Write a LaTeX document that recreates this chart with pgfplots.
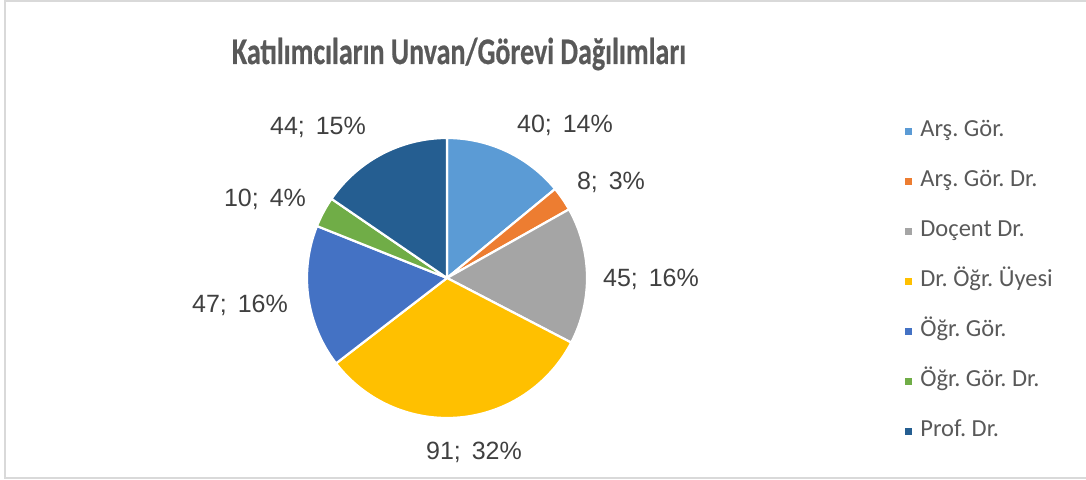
\documentclass[border=0pt]{standalone}
\usepackage{pgfplots}
\pgfplotsset{compat=1.18}
\usepackage{fontspec}
\setmainfont{Carlito}
\newfontfamily\titlefont{Carlito}[BoldFeatures={FakeBold=0.6}]
\newfontfamily\lab{Liberation Sans}
\frenchspacing
\definecolor{c1}{HTML}{5B9BD5}
\definecolor{c2}{HTML}{ED7D31}
\definecolor{c3}{HTML}{A5A5A5}
\definecolor{c4}{HTML}{FFC000}
\definecolor{c5}{HTML}{4472C4}
\definecolor{c6}{HTML}{70AD47}
\definecolor{c7}{HTML}{255E91}
\definecolor{titlegray}{HTML}{595959}
\definecolor{labgray}{HTML}{404040}
\definecolor{framegray}{HTML}{D9D9D9}
% slice: cumulative value before, value, colour (total 285)
\newcommand{\pieslice}[3]{%
  \pgfmathsetmacro{\angA}{90-(#1+#2)/285*360}%
  \pgfmathsetmacro{\angB}{90-#1/285*360}%
  \addplot[fill=#3, draw=white, line width=2.2bp, line join=round, domain=\angA:\angB, samples=80]
    ({447+140*cos(x)},{202+140*sin(x)}) -- (axis cs:447,202) -- cycle;
}
\begin{document}
\begin{tikzpicture}
\path[use as bounding box] (0,0) rectangle (1086bp,480bp);
\begin{axis}[
  at={(0,0)}, anchor=south west,
  scale only axis, width=1086bp, height=480bp,
  xmin=0, xmax=1086, ymin=0, ymax=480,
  hide axis, clip=false,
  legend style={at={(axis cs:903,360)}, anchor=north west, draw=none, fill=none,
    font=\fontsize{24.5bp}{28bp}\selectfont, text=titlegray,
    row sep=28bp, inner sep=0pt,
    nodes={inner sep=0pt, text height=16bp, text depth=6bp}},
  legend cell align=left,
  legend image code/.code={\fill[#1] (0bp,-4.5bp) rectangle (9bp,4.5bp);},
]
\pieslice{0}{40}{c1}
\addlegendentry{\hspace{6bp}Arş. Gör.}
\pieslice{40}{8}{c2}
\addlegendentry{\hspace{6bp}Arş. Gör. Dr.}
\pieslice{48}{45}{c3}
\addlegendentry{\hspace{6bp}Doçent Dr.}
\pieslice{93}{91}{c4}
\addlegendentry{\hspace{6bp}Dr. Öğr. Üyesi}
\pieslice{184}{47}{c5}
\addlegendentry{\hspace{6bp}Öğr. Gör.}
\pieslice{231}{10}{c6}
\addlegendentry{\hspace{6bp}Öğr. Gör. Dr.}
\pieslice{241}{44}{c7}
\addlegendentry{\hspace{6bp}Prof. Dr.}

\node[anchor=base, text=titlegray, font=\titlefont\fontsize{28bp}{32bp}\selectfont\bfseries]
  at (axis cs:459,416) {\scalebox{1}[1.34]{Katılımcıların Unvan/Görevi Dağılımları}};

\begin{scope}[every node/.style={anchor=base, text=labgray, font=\lab\fontsize{25bp}{30bp}\selectfont}]
\node at (axis cs:565,348) {40;\hspace{11bp}14\%};
\node at (axis cs:611,291) {8;\hspace{11bp}3\%};
\node at (axis cs:651,194) {45;\hspace{11bp}16\%};
\node at (axis cs:474,21) {91;\hspace{11bp}32\%};
\node at (axis cs:240,168) {47;\hspace{11bp}16\%};
\node at (axis cs:265,274) {10;\hspace{11bp}4\%};
\node at (axis cs:318,346) {44;\hspace{11bp}15\%};
\end{scope}

\draw[framegray, line width=2bp] (axis cs:1086,478.5) -- (axis cs:5,478.5) -- (axis cs:5,2) -- (axis cs:1086,2);
\end{axis}
\end{tikzpicture}
\end{document}
